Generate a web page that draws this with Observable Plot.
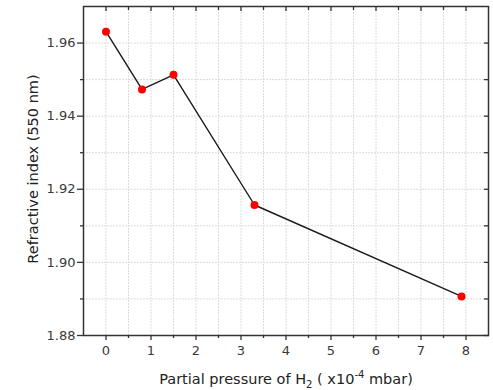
<!DOCTYPE html>
<html>
<head>
<meta charset="utf-8">
<script src="https://cdn.jsdelivr.net/npm/d3@7"></script>
<script src="https://cdn.jsdelivr.net/npm/@observablehq/plot@0.6"></script>
<style>
  html, body { margin: 0; padding: 0; background: #fff; }
  svg { display: block; }
</style>
</head>
<body>
<div id="chart"></div>
<script>
const pressure = [0, 0.8, 1.5, 3.3, 7.9];
const refractiveIndex = [1.9631, 1.9473, 1.9513, 1.9157, 1.8907];
const xMajorTicks = [0, 1, 2, 3, 4, 5, 6, 7, 8];
const xMinorTicks = [0.5, 1.5, 2.5, 3.5, 4.5, 5.5, 6.5, 7.5];
const yMajorTicks = [1.88, 1.90, 1.92, 1.94, 1.96];
const yMinorTicks = [1.89, 1.91, 1.93, 1.95];
const yLabel = "Refractive index (550 nm)";

const data = pressure.map((p, i) => ({p, n: refractiveIndex[i]}));
const xGrid = [...xMajorTicks, ...xMinorTicks];
const yGrid = [...yMajorTicks, ...yMinorTicks];
const tickFont = "DejaVu Sans, Verdana, sans-serif";
const labelFont = "DejaVu Sans, Verdana, sans-serif";
const axisColor = "#333";
const textColor = "#3a3a3a";

const plot = Plot.plot({
  width: 493,
  height: 390,
  marginLeft: 83,
  marginTop: 6,
  marginRight: 5,
  marginBottom: 55,
  style: {fontFamily: tickFont, fontSize: "13px", color: textColor, background: "#fff"},
  x: {domain: [-0.5, 8.5]},
  y: {domain: [1.88, 1.97]},
  marks: [
    Plot.gridX(xGrid, {stroke: "#dcdcdc", strokeOpacity: 1, strokeDasharray: "2,1"}),
    Plot.gridY(yGrid, {stroke: "#dcdcdc", strokeOpacity: 1, strokeDasharray: "2,1"}),
    // bottom axis
    Plot.axisX(xMajorTicks, {anchor: "bottom", tickSize: 5, tickPadding: 5, label: null, fontSize: 13, stroke: axisColor, fill: textColor, strokeWidth: 1.3}),
    Plot.axisX(xMinorTicks, {anchor: "bottom", tickSize: 3, tickFormat: () => "", label: null, stroke: axisColor, strokeWidth: 1.3}),
    // top axis (inward ticks)
    Plot.axisX(xMajorTicks, {anchor: "top", tickSize: 4, dy: 4, tickFormat: () => "", label: null, stroke: axisColor, strokeWidth: 1.3}),
    Plot.axisX(xMinorTicks, {anchor: "top", tickSize: 3, dy: 3, tickFormat: () => "", label: null, stroke: axisColor, strokeWidth: 1.3}),
    // left axis
    Plot.axisY(yMajorTicks, {anchor: "left", tickSize: 6, tickPadding: 2, tickFormat: d3.format(".2f"), label: null, fontSize: 13, stroke: axisColor, fill: textColor, strokeWidth: 1.3}),
    Plot.axisY(yMinorTicks, {anchor: "left", tickSize: 3, tickFormat: () => "", label: null, stroke: axisColor, strokeWidth: 1.3}),
    // right axis (inward ticks)
    Plot.axisY([...yMajorTicks, ...yMinorTicks], {anchor: "right", tickSize: 5, dx: -5, tickFormat: () => "", label: null, stroke: axisColor, strokeWidth: 1.3}),
    Plot.frame({stroke: axisColor, strokeWidth: 1.5}),
    Plot.line(data, {x: "p", y: "n", stroke: "#1a1a1a", strokeWidth: 1.4}),
    Plot.dot(data, {x: "p", y: "n", r: 4, fill: "#ff0000", stroke: "none"})
  ]
});

document.getElementById("chart").appendChild(plot);

// axis titles with sub/superscripts
const svg = d3.select(plot);
svg.append("text")
  .attr("transform", "translate(37.5,169) rotate(-90)")
  .attr("text-anchor", "middle")
  .attr("font-family", labelFont)
  .attr("font-size", 14.5)
  .attr("fill", "#222")
  .text(yLabel);

const xl = svg.append("text")
  .attr("x", 286)
  .attr("y", 383.5)
  .attr("text-anchor", "middle")
  .attr("font-family", labelFont)
  .attr("font-size", 14.5)
  .attr("fill", "#222");
xl.append("tspan").text("Partial pressure of H");
xl.append("tspan").attr("font-size", 10).attr("dy", 4).text("2");
xl.append("tspan").attr("dy", -4).text(" ( x10");
xl.append("tspan").attr("font-size", 10).attr("dy", -6).text("-4");
xl.append("tspan").attr("dy", 6).text(" mbar)");
</script>
</body>
</html>
